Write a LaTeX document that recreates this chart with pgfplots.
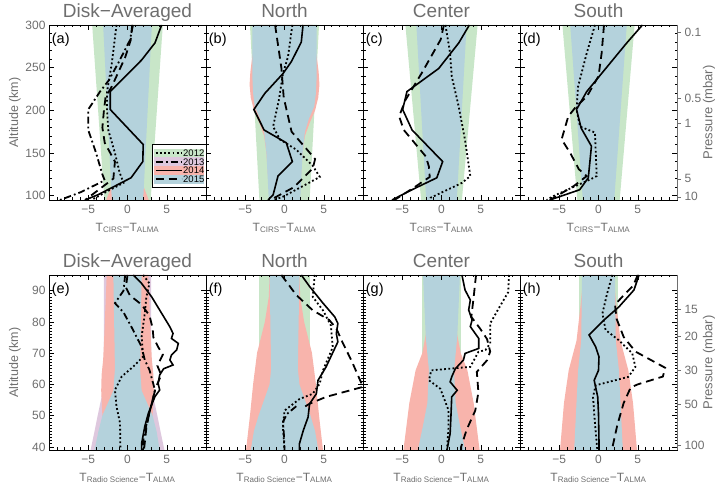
\documentclass[border=0pt]{standalone}
\usepackage{pgfplots}
\pgfplotsset{compat=1.18}
\usepackage{fontspec}
\setmainfont{Liberation Sans}
\definecolor{cgreen}{RGB}{200,230,200}
\definecolor{cblue}{RGB}{180,210,220}
\definecolor{cpink}{RGB}{248,180,172}
\definecolor{cpurple}{RGB}{222,200,222}
\definecolor{txtgray}{RGB}{110,110,110}
\tikzset{
 l12/.style={black, line width=1.8pt, dash pattern=on 1.8pt off 2.4pt},
 l13/.style={black, line width=1.8pt, dash pattern=on 7pt off 3pt on 1.8pt off 3pt},
 l14/.style={black, line width=1.6pt},
 l15/.style={black, line width=1.8pt, dash pattern=on 8pt off 5pt},
}
\pgfplotsset{
  band/.style={draw=none, forget plot},
  panel/.style={
    scale only axis, width=157pt, height=175pt, anchor=south west,
    xmin=-10, xmax=10, xtick={-10,-5,0,5,10}, xticklabels={,−5,0,5,},
    minor x tick num=4,
    tick align=inside, major tick length=5pt, minor tick length=2.5pt,
    axis on top,
    axis line style={line width=0.7pt},
    every tick/.style={black, line width=0.5pt},
    /pgf/number format/assume math mode=true,
    tick label style={font=\fontsize{12}{12}\selectfont, text=txtgray},
    xticklabel style={yshift=-2pt},
    yticklabels={},
    every axis title/.style={font=\fontsize{19}{20}\selectfont, text=txtgray, at={(0.5,1)}, anchor=base, yshift=7.5pt},
    every axis x label/.style={font=\fontsize{12}{12}\selectfont, text=txtgray, at={(axis description cs:0.5,0)}, anchor=center, yshift=-28pt},
    every axis y label/.style={font=\fontsize{12.5}{12.5}\selectfont, text=txtgray, at={(axis description cs:0,0.5)}, anchor=center, rotate=90, yshift=34pt},
  },
  toprow/.style={panel, ymin=95, ymax=300, ytick={100,150,200,250,300}, minor y tick num=4,
     xlabel={T\textsubscript{CIRS}−T\textsubscript{ALMA}}},
  botrow/.style={panel, ymin=39, ymax=95, ytick={40,50,60,70,80,90}, minor y tick num=9,
     xlabel={T\textsubscript{Radio Science}−T\textsubscript{ALMA}}},
  presaxis/.style={scale only axis, width=157pt, height=175pt, anchor=south west,
     xmin=-10, xmax=10, axis x line=none, axis y line*=right,
     tick align=outside, major tick length=4pt,
     axis line style={draw=txtgray, line width=0.7pt},
     every tick/.style={txtgray, line width=0.6pt},
     tick label style={font=\fontsize{12}{12}\selectfont, text=txtgray},
     every axis y label/.style={font=\fontsize{13}{13}\selectfont, text=txtgray, at={(axis description cs:1,0.5)}, anchor=center, rotate=90, yshift=-32pt},
     ylabel={Pressure (mbar)}},
}
\newcommand{\plab}[1]{\node[anchor=west, inner sep=0pt, font=\fontsize{14.5}{14.5}\selectfont, text=black] at (rel axis cs:0.017,0.914) {(#1)};}
\begin{document}
\begin{tikzpicture}
\useasboundingbox (0pt,0pt) rectangle (725pt,494pt);
%================ (a)
\begin{axis}[toprow, at={(49pt,294pt)}, title={Disk−Averaged}, yticklabels={100,150,200,250,300}, ylabel={Altitude (km)}]
\addplot[band, fill=cgreen] coordinates {(-2.95,95)(-4.5,300)(4.5,300)(2.95,95)} -- cycle;
\addplot[band, fill=cpink] coordinates {(-2.7,95)(-2.0,112)(-2.0,300)(2.0,300)(2.0,112)(2.7,95)} -- cycle;
\addplot[band, fill=cblue] coordinates {(-2.0,95)(-3.1,300)(3.1,300)(2.0,95)} -- cycle;
\addplot[l12] coordinates {(-1.4,300)(-2.0,255)(-2.6,222)(-2.6,200)(-2.45,177)(-1.6,150)(-1.0,127)(-0.5,115)(-2.0,108)(-4.0,98)(-4.6,95)};
\addplot[l13] coordinates {(0.7,300)(0.3,282)(-1.2,255)(-2.4,235)(-3.5,222)(-5.0,201)(-5.0,177)(-4.0,150)(-3.2,125)(-2.9,118)(-6.0,104)(-8.6,95)};
\addplot[l14] coordinates {(4.35,300)(3.5,279)(1.8,259)(-2.2,222)(-2.2,201)(2.0,160)(1.95,140)(0.45,121)(-3.7,101.4)(-5.4,95)};
\addplot[l15] coordinates {(0.6,300)(0.4,282)(-0.3,262)(-2.0,228)(-2.8,215)(-3.0,200)(-3.2,180)(-2.9,162)(-1.6,140)(-1.8,120)(-5.4,95)};
\plab{a}
\end{axis}
%================ (b)
\begin{axis}[toprow, at={(206pt,294pt)}, title={North}]
\addplot[band, fill=cgreen] coordinates {(-3.2,95)(-4.4,300)(4.4,300)(3.2,95)} -- cycle;
\addplot[band, fill=cpink] coordinates {(-1.9,95)(-2.3,150)(-2.6,170)(-3.2,185)(-3.9,200)(-4.3,215)(-4.45,230)(-4.35,245)(-4.15,260)(-3.8,275)(-3.6,300)
 (3.6,300)(3.8,275)(4.15,260)(4.35,245)(4.45,230)(4.3,215)(3.9,200)(3.2,185)(2.6,170)(2.3,150)(1.9,95)} -- cycle;
\addplot[band, fill=cblue] coordinates {(-2.0,95)(-2.3,150)(-2.6,175)(-3.1,190)(-3.8,205)(-4.0,220)(-4.1,240)(-4.1,300)
 (4.1,300)(4.1,240)(4.0,220)(3.8,205)(3.1,190)(2.6,175)(2.3,150)(2.0,95)} -- cycle;
\addplot[l12] coordinates {(1.0,300)(0.45,263)(-0.2,243)(-0.7,213)(-1.45,181)(-0.6,166)(1.5,154)(3.6,135)(4.5,122)(-0.15,99)(-1.4,95)};
\addplot[l14] coordinates {(2.36,300)(2.14,280)(0.87,257)(-0.2,243)(-2.5,220)(-3.9,201)(-2.6,177)(0.23,162)(1.0,140)(-0.83,123)(-1.45,101)(-2.1,95)};
\addplot[l15] coordinates {(-1.2,300)(-0.4,250)(-0.1,215)(0.9,175)(2.5,158)(3.9,143)(3.6,132)(1.2,110)(-1.8,95)};
\plab{b}
\end{axis}
%================ (c)
\begin{axis}[toprow, at={(363pt,294pt)}, title={Center}]
\addplot[band, fill=cgreen] coordinates {(-2.6,95)(-4.6,300)(4.6,300)(2.6,95)} -- cycle;
\addplot[band, fill=cblue] coordinates {(-1.95,95)(-3.2,300)(3.2,300)(1.95,95)} -- cycle;
\addplot[l12] coordinates {(0.5,300)(1.1,267)(1.3,240)(2.2,204)(3.0,165)(3.67,123)(2.6,115)(-1.4,97.6)(-1.6,95)};
\addplot[l14] coordinates {(3.55,300)(2.2,279)(-0.36,249)(-4.4,222)(-4.95,201)(-3.75,177)(0.15,140)(-0.6,121)(-3.76,107)(-6.1,96)(-6.3,95)};
\addplot[l15] coordinates {(0.3,300)(-0.1,283)(-2.5,244)(-4.6,212)(-5.4,193)(-4.8,177)(-2.0,146)(-1.6,134)(-1.5,122)(-3.6,109)(-6.0,95)};
\plab{c}
\end{axis}
%================ (d)
\begin{axis}[toprow, at={(520pt,294pt)}, title={South}]
\addplot[band, fill=cgreen] coordinates {(-2.7,95)(-4.6,300)(4.6,300)(2.7,95)} -- cycle;
\addplot[band, fill=cblue] coordinates {(-2.0,95)(-3.6,300)(3.6,300)(2.0,95)} -- cycle;
\addplot[l12] coordinates {(-0.45,300)(-1.5,267)(-2.6,228)(-2.8,201)(-2.35,181)(-0.45,174)(-0.23,123)(-1.07,119)(-5.8,99.4)(-6.6,95)};
\addplot[l14] coordinates {(5.6,300)(3.6,279)(-1.5,222)(-2.8,201)(-2.2,179)(-0.9,158)(-1.3,121)(-2.4,107)(-6.2,95)};
\addplot[l15] coordinates {(0.7,300)(0.4,267)(0.0,240)(-1.5,216)(-2.8,205)(-3.85,193)(-4.7,166)(-3.6,150)(-2.5,131)(-1.5,123)(-3.2,111)(-6.2,95)};
\plab{d}
\end{axis}
\begin{axis}[presaxis, at={(520pt,294pt)}, ymin=95, ymax=300, ytick={98.7,119.7,185,213.6,291}, yticklabels={10,5,1,0.5,0.1}]
\end{axis}
%================ (e)
\begin{axis}[botrow, at={(49pt,44pt)}, title={Disk−Averaged}, yticklabels={40,50,60,70,80,90}, ylabel={Altitude (km)}]
\addplot[band, fill=cgreen] coordinates {(-3.05,39)(-3.05,95)(3.05,95)(3.05,39)} -- cycle;
\addplot[band, fill=cpurple] coordinates {(-4.7,39)(-4.2,45)(-3.8,50)(-3.3,56)(-3.0,62)(-3.0,95)(3.0,95)(3.0,62)(3.3,56)(3.8,50)(4.2,45)(4.7,39)} -- cycle;
\addplot[band, fill=cpink] coordinates {(-3.0,39)(-3.2,50)(-3.35,58)(-3.3,63)(-3.1,68)(-2.95,76)(-2.65,95)(2.65,95)(2.95,76)(3.1,68)(3.3,63)(3.35,58)(3.2,50)(3.0,39)} -- cycle;
\addplot[band, fill=cblue] coordinates {(-4.2,39)(-3.7,45)(-3.2,50)(-2.5,54)(-1.8,58)(-1.6,65)(-1.8,95)(1.8,95)(1.6,65)(1.8,58)(2.5,54)(3.2,50)(3.7,45)(4.1,39)} -- cycle;
\addplot[l12] coordinates {(2.0,95)(2.8,92.3)(2.4,88)(2.2,82.7)(1.8,75.3)(2.0,68.9)(0.74,65.7)(-0.74,62.5)(-1.6,58.2)(-1.4,52.9)(-0.95,47.6)(-0.9,39)};
\addplot[l13] coordinates {(-0.3,95)(-0.5,90)(-1.6,86)(-0.5,83)(0.5,78.4)(1.8,72)(2.2,67.8)(2.8,64.6)(3.5,58.2)(2.9,52)(2.4,47)(2.0,42)(1.9,39)};
\addplot[l14] coordinates {(0.74,95)(1.8,92.3)(3.08,88)(4.36,82.7)(5.4,78.4)(5.8,76.3)(5.6,74.7)(6.47,73.1)(6.26,71)(5.6,69.4)(5.4,67.8)(5.8,66.2)(4.6,65)(4.1,63)(3.9,60.3)(4.1,58.2)(3.5,56.1)(2.65,50.7)(2.2,46.5)(1.8,41.1)(1.8,39)};
\addplot[l15] coordinates {(0.0,95)(-0.2,91)(0.3,88.5)(1.8,85.5)(2.8,82)(3.2,78)(3.3,75)(3.9,72)(4.5,69.5)(3.8,66)(4.3,63)(3.6,59)(3.2,55)(2.8,51)(2.4,46)(2.1,39)};
\plab{e}
\end{axis}
%================ (f)
\begin{axis}[botrow, at={(206pt,44pt)}, title={North}]
\addplot[band, fill=cgreen] coordinates {(-3.2,39)(-3.2,95)(3.2,95)(3.2,39)} -- cycle;
\addplot[band, fill=cpink] coordinates {(-4.9,39)(-4.4,50)(-4.0,60)(-3.5,70)(-2.5,80)(-2.0,88)(-1.9,95)(1.9,95)(2.0,88)(2.5,80)(3.5,70)(4.0,60)(4.4,50)(4.9,39)} -- cycle;
\addplot[band, fill=cblue] coordinates {(-4.3,39)(-3.9,45)(-3.3,50)(-2.6,55)(-1.9,60)(-1.7,65)(-1.9,95)(1.9,95)(1.7,65)(1.9,60)(2.6,55)(3.3,50)(3.9,45)(4.3,39)} -- cycle;
\addplot[l12] coordinates {(3.85,95)(3.6,88)(4.9,83.7)(5.9,78.9)(6.15,71.9)(4.9,64.5)(4.48,60.2)(3.6,57)(1.9,55.3)(0.0,51.6)(-0.2,46.3)(0.0,39)};
\addplot[l13] coordinates {(1.5,53)(0.3,50.5)(-0.2,48)(-0.1,45)(0.0,39)};
\addplot[l14] coordinates {(2.14,95)(3.2,91.3)(4.9,86)(6.4,81.6)(6.8,79.5)(6.6,76.3)(6.8,73.6)(6.1,69.9)(5.3,65.6)(4.27,61.3)(4.06,57)(3.2,53.8)(3.0,49.5)(2.4,45.3)(1.9,41)(1.9,39)};
\addplot[l15] coordinates {(-0.4,95)(1.5,88.6)(3.6,83.7)(5.7,80.6)(6.6,77.9)(7.45,73.1)(8.5,67.8)(10.0,59.2)(5.3,56)(3.2,53.8)(2.2,52.3)};
\plab{f}
\end{axis}
%================ (g)
\begin{axis}[botrow, at={(363pt,44pt)}, title={Center}]
\addplot[band, fill=cgreen] coordinates {(-2.5,39)(-2.5,95)(2.5,95)(2.5,39)} -- cycle;
\addplot[band, fill=cpink] coordinates {(-4.85,39)(-4.1,54)(-3.3,64.5)(-2.45,70)(-2.0,76)(-1.9,95)(1.9,95)(2.0,76)(2.45,70)(3.3,64.5)(4.1,54)(4.85,39)} -- cycle;
\addplot[band, fill=cblue] coordinates {(-3.0,39)(-2.3,47.5)(-1.8,54)(-1.6,64.5)(-2.0,75)(-2.35,95)(2.35,95)(2.0,75)(1.6,64.5)(1.8,54)(2.3,47.5)(3.0,39)} -- cycle;
\addplot[l12] coordinates {(8.6,95)(8.5,89.5)(7.4,84.8)(6.2,79.5)(6.2,73.1)(5.6,71)(4.7,70.4)(3.67,65.6)(-1.3,64.5)(-1.6,61.3)(-0.15,58.6)(0.9,51.7)(0.9,46.4)(0.7,39)};
\addplot[l14] coordinates {(2.6,95)(3.0,90.2)(3.67,87)(3.46,83.8)(3.9,80.6)(3.67,78.5)(4.74,74.7)(4.74,71.5)(3.0,69.9)(2.8,67.8)(1.76,65)(1.3,62.4)(1.1,60.8)(2.0,58.1)(1.3,56)(1.2,49.6)(1.1,44.3)(0.7,39)};
\addplot[l15] coordinates {(4.4,95)(4.1,88)(3.8,81.6)(4.9,77.9)(5.8,74.5)(6.2,70.5)(5.8,67.7)(4.5,64)(4.7,57.4)(4.3,51.6)(3.2,45.5)(2.5,40)(2.5,39)};
\plab{g}
\end{axis}
%================ (h)
\begin{axis}[botrow, at={(520pt,44pt)}, title={South}]
\addplot[band, fill=cgreen] coordinates {(-2.45,39)(-2.45,95)(2.45,95)(2.45,39)} -- cycle;
\addplot[band, fill=cpink] coordinates {(-4.9,39)(-4.4,54)(-3.8,64.5)(-2.8,74)(-2.3,85)(-1.9,95)(1.9,95)(2.3,85)(2.8,74)(3.8,64.5)(4.4,54)(4.9,39)} -- cycle;
\addplot[band, fill=cblue] coordinates {(-3.1,39)(-2.6,64.5)(-2.2,74)(-2.1,95)(2.1,95)(2.2,74)(2.6,64.5)(3.1,39)} -- cycle;
\addplot[l12] coordinates {(1.76,95)(1.1,89.1)(0.5,82.7)(0.9,77.4)(2.6,74.1)(4.3,69.9)(4.7,65.6)(3.8,62.4)(-0.36,59.7)(-0.7,56)(-0.45,47.5)(-0.15,39)};
\addplot[l14] coordinates {(5.16,95)(4.52,90.2)(2.6,84.8)(0.7,80.6)(-1.2,75.8)(-0.36,72)(0.06,68.8)(0.0,64.5)(-0.55,61.3)(-0.1,56)(0.0,50.6)(0.08,39)};
\addplot[l15] coordinates {(5.0,95)(4.4,91.5)(3.2,88.5)(2.1,85.5)(2.3,81)(3.2,75.2)(4.7,70.5)(8.5,65.3)(8.2,62.5)(5.0,60)(4.1,59)(3.2,54)(2.4,47)(1.7,39)};
\plab{h}
\end{axis}
\begin{axis}[presaxis, at={(520pt,44pt)}, ymin=39, ymax=95, ytick={40.5,53.7,64.6,75.5,84.1}, yticklabels={100,50,30,20,15}]
\end{axis}
%================ legend of (a)
\fill[white] (152pt,307pt) rectangle (206pt,350pt);
\fill[cgreen]  (154pt,336.5pt) rectangle (203.5pt,345pt);
\fill[cpurple] (154pt,327.8pt) rectangle (203.5pt,336.5pt);
\fill[cpink]   (154pt,319.1pt) rectangle (203.5pt,327.8pt);
\fill[cblue]   (154pt,310.4pt) rectangle (203.5pt,319.1pt);
\draw[l12] (155.7pt,340.7pt) -- (181.7pt,340.7pt);
\draw[l13] (155.7pt,332pt) -- (181.7pt,332pt);
\draw[l14] (155.7pt,323.3pt) -- (181.7pt,323.3pt);
\draw[l15] (155.7pt,314.7pt) -- (181.7pt,314.7pt);
\begin{scope}[every node/.style={anchor=west, inner sep=0pt, font=\fontsize{9.5}{9.5}\selectfont, text=black}]
\node at (183pt,340.7pt) {2012};
\node at (183pt,332pt) {2013};
\node at (183pt,323.3pt) {2014};
\node at (183pt,314.7pt) {2015};
\end{scope}
\draw[black, line width=0.7pt] (152pt,307pt) rectangle (206pt,350pt);
\end{tikzpicture}
\end{document}
